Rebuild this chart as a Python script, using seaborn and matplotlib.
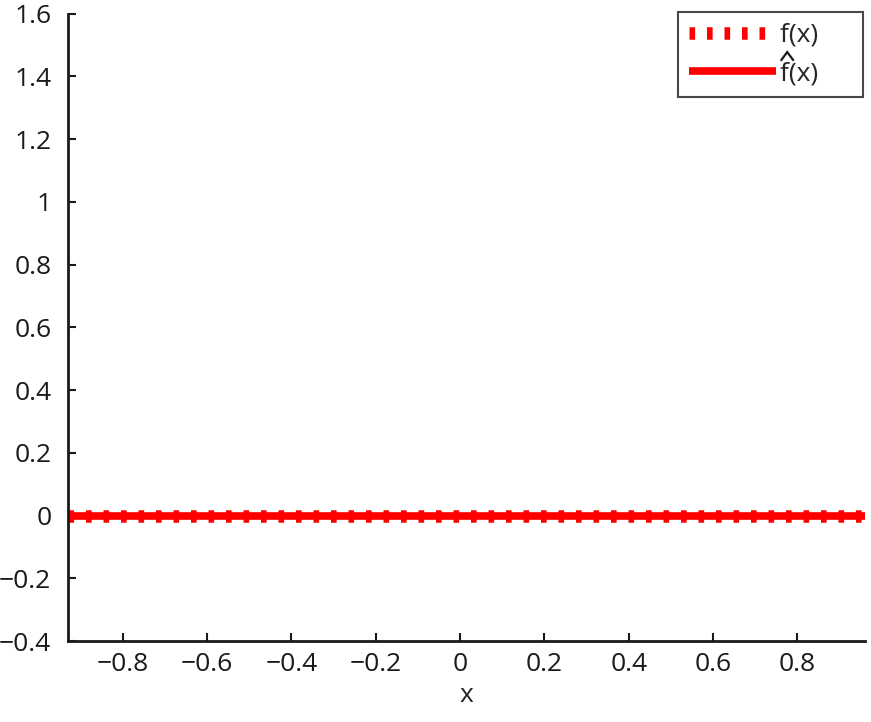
import matplotlib
matplotlib.use("Agg")
import matplotlib.pyplot as plt
from matplotlib.lines import Line2D
import seaborn as sns
import pandas as pd

x_vals = [-0.93, -0.6, -0.3, 0.0, 0.3, 0.6, 0.96]
f_vals = [0, 0, 0, 0, 0, 0, 0]
fhat_vals = [0, 0, 0, 0, 0, 0, 0]

sns.set_theme(style="white")
plt.rcParams['font.family'] = ['Open Sans', 'DejaVu Sans']

df = pd.DataFrame({"x": x_vals, "f": f_vals, "fhat": fhat_vals})

fig = plt.figure(figsize=(8.71, 7.22), dpi=100)
ax = fig.add_axes([0.078, 0.112, 0.915, 0.869])

sns.lineplot(data=df, x="x", y="fhat", ax=ax, color="red", linewidth=5.5,
             label="f(x)     ")
sns.lineplot(data=df, x="x", y="f", ax=ax, color="red", linewidth=9,
             dashes=False, label="f(x)     ")
ax.lines[1].set_dashes([0.45, 0.95])
ax.lines[1].set_dash_capstyle("butt")
ax.lines[0].set_solid_capstyle("butt")

ax.set_xlim(-0.93, 0.96)
ax.set_ylim(-0.4, 1.6)
ax.set_xticks([-0.8, -0.6, -0.4, -0.2, 0, 0.2, 0.4, 0.6, 0.8])
ax.set_xticklabels(["\u22120.8", "\u22120.6", "\u22120.4", "\u22120.2", "0", "0.2", "0.4", "0.6", "0.8"])
ax.set_yticks([-0.4, -0.2, 0, 0.2, 0.4, 0.6, 0.8, 1, 1.2, 1.4, 1.6])
ax.set_yticklabels(["\u22120.4", "\u22120.2", "0", "0.2", "0.4", "0.6", "0.8", "1", "1.2", "1.4", "1.6"])
ax.tick_params(direction="in", length=6, width=1.5, labelsize=19, colors="#1a1a1a",
               left=True, bottom=True, pad=8)
ax.tick_params(axis="y", pad=12)
for s in ["top", "right"]:
    ax.spines[s].set_visible(False)
for s in ["left", "bottom"]:
    ax.spines[s].set_linewidth(2)
    ax.spines[s].set_color("#1a1a1a")
ax.set_xlabel("x", fontsize=19, labelpad=4)
ax.set_ylabel("")

handles, labels = ax.get_legend_handles_labels()
leg = ax.legend(handles[::-1], labels[::-1], loc="upper right", fontsize=19,
                frameon=True, fancybox=False, edgecolor="#1a1a1a", handlelength=3.3,
                borderaxespad=0.0, borderpad=0.42, handletextpad=0.15, labelspacing=0.5,
                bbox_to_anchor=(0.998, 1.003))
leg.get_frame().set_linewidth(1.5)

# circumflex over the f of the second legend entry
fig.canvas.draw()
txt = leg.get_texts()[1]
bb = txt.get_window_extent()
W, H = fig.bbox.width, fig.bbox.height
hx = [bb.x0 + 1.5, bb.x0 + 7.5, bb.x0 + 13.5]
hy = [bb.y1 + 1, bb.y1 + 9, bb.y1 + 1]
fig.add_artist(Line2D([v / W for v in hx], [v / H for v in hy], color="#1a1a1a",
                      linewidth=1.6, transform=fig.transFigure,
                      solid_joinstyle="miter"))
fig.savefig("out.png", dpi=100)
